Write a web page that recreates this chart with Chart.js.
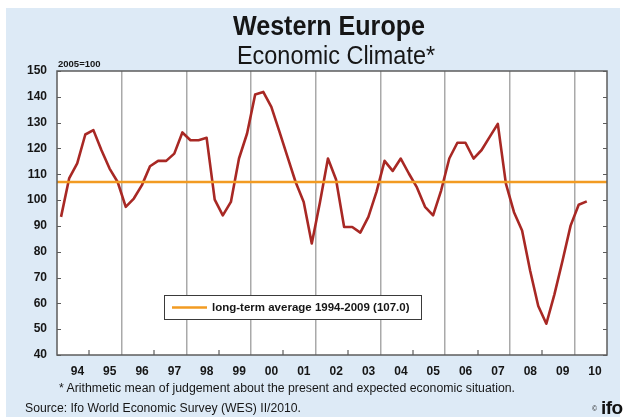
<!DOCTYPE html>
<html>
<head>
<meta charset="utf-8">
<script src="https://cdn.jsdelivr.net/npm/chart.js@4.4.1/dist/chart.umd.min.js"></script>
<style>
html,body{margin:0;padding:0;background:#fff;}
#wrap{position:relative;width:625px;height:417px;overflow:hidden;background:#fff;}
#bg{position:absolute;left:6px;top:8px;width:614px;height:409px;background:#ddeaf6;}
#c{position:absolute;left:0;top:0;}
.t{position:absolute;font-family:"Liberation Sans",Arial,sans-serif;color:#161616;white-space:nowrap;line-height:1;}
</style>
</head>
<body>
<div id="wrap">
  <div id="bg"></div>
  <canvas id="c" width="625" height="417"></canvas>
  <div class="t" id="title" style="left:0;width:658px;top:13px;text-align:center;font-weight:bold;font-size:27px;transform:scaleX(0.93);">Western Europe</div>
  <div class="t" id="subtitle" style="left:0;width:672px;top:43px;text-align:center;font-size:25.5px;transform:scaleX(0.92);">Economic Climate*</div>
  <div class="t" id="unit" style="left:58px;top:59px;font-weight:bold;font-size:9.5px;">2005=100</div>
  <div class="t fit" id="note" data-w="456" style="left:59px;top:382px;font-size:12.5px;transform-origin:0 0;">* Arithmetic mean of judgement about the present and expected economic situation.</div>
  <div class="t fit" id="source" data-w="276" style="left:25px;top:402px;font-size:12px;transform-origin:0 0;">Source: Ifo World Economic Survey (WES) II/2010.</div>
  <div class="t" id="copy" style="left:592px;top:405px;font-size:7px;">©</div>
  <div class="t" id="ifo" style="left:601px;top:398px;font-size:19px;font-weight:900;color:#111;letter-spacing:-0.5px;">ifo</div>
</div>
<script>
// ---- data ----
const years = [1994,1995,1996,1997,1998,1999,2000,2001,2002,2003,2004,2005,2006,2007,2008,2009,2010];
const yearLabels = ['94','95','96','97','98','99','00','01','02','03','04','05','06','07','08','09','10'];
const startYear = 1994;
// quarterly values, 1994 Q1 .. 2010 Q2
const climate = [
  93.5,108.4,114.2,125.4,
  127.1,119.3,112.2,107.0,
  97.4,100.6,105.8,113.1,
  115.2,115.2,118.0,126.2,
  123.2,123.2,124.1,100.2,
  94.1,99.3,116.1,125.8,
  140.9,141.9,136.1,126.5,
  116.7,107.0,99.3,83.2,
  99.0,116.1,108.0,89.6,
  89.6,87.4,93.5,103.2,
  115.2,111.3,116.1,110.3,
  104.9,97.4,94.1,103.8,
  116.1,122.2,122.2,116.1,
  119.4,124.5,129.5,106.4,
  95.3,88.2,72.6,59.0,
  52.1,63.5,76.5,90.1,
  98.2,99.5
];
const longTermAverage = 107.0;
const averageLabel = 'long-term average 1994-2009 (107.0)';
const yTicks = [40,50,60,70,80,90,100,110,120,130,140,150];

// fit footnote widths
document.querySelectorAll('.fit').forEach(el => {
  const w = el.getBoundingClientRect().width;
  el.style.transform = 'scaleX(' + (parseFloat(el.dataset.w) / w) + ')';
});

const FONT = '"Liberation Sans", Arial, sans-serif';
const RED = '#a82824';
const ORANGE = '#f29b22';
const GRID = '#a9a9a9';
const FRAME = '#5c5c5c';
const LABEL_OFF = 0.63;

const decor = {
  id: 'decor',
  beforeDraw(chart) {
    const {ctx, chartArea: a} = chart;
    ctx.save();
    ctx.fillStyle = '#ffffff';
    ctx.fillRect(a.left, a.top, a.right - a.left, a.bottom - a.top);
    ctx.restore();
  },
  afterDatasetsDraw(chart) {
    const {ctx, chartArea: a, scales} = chart;
    ctx.save();
    // frame
    ctx.strokeStyle = FRAME;
    ctx.lineWidth = 1.5;
    ctx.strokeRect(a.left, a.top, a.right - a.left, a.bottom - a.top);
    // y ticks inside, both sides
    ctx.lineWidth = 1;
    yTicks.forEach(v => {
      const y = Math.round(scales.y.getPixelForValue(v)) + 0.5;
      ctx.beginPath();
      ctx.moveTo(a.left, y); ctx.lineTo(a.left + 4, y);
      ctx.moveTo(a.right - 4, y); ctx.lineTo(a.right, y);
      ctx.stroke();
    });
    // short x ticks at odd-year boundaries
    ctx.lineWidth = 1.2;
    years.forEach(yr => {
      if (yr % 2 === 1) {
        const x = Math.round(scales.x.getPixelForValue(yr));
        ctx.beginPath();
        ctx.moveTo(x, a.bottom); ctx.lineTo(x, a.bottom - 5);
        ctx.stroke();
      }
    });
    // legend box
    const ds = chart.data.datasets[0];
    const bx = 164, by = 295, bw = 257, bh = 24;
    ctx.fillStyle = '#ffffff';
    ctx.fillRect(bx, by, bw, bh);
    ctx.strokeStyle = '#3a3a3a';
    ctx.lineWidth = 1;
    ctx.strokeRect(bx + 0.5, by + 0.5, bw, bh);
    ctx.strokeStyle = ds.borderColor;
    ctx.lineWidth = ds.borderWidth;
    ctx.beginPath();
    ctx.moveTo(bx + 8, by + 12.5); ctx.lineTo(bx + 43, by + 12.5);
    ctx.stroke();
    ctx.fillStyle = '#161616';
    ctx.font = 'bold 11.5px ' + FONT;
    ctx.textBaseline = 'middle';
    ctx.textAlign = 'left';
    ctx.fillText(ds.label, bx + 48, by + 13);
    ctx.restore();
  }
};

Chart.defaults.font.family = FONT;

new Chart(document.getElementById('c'), {
  type: 'line',
  data: {
    datasets: [
      {
        label: averageLabel,
        data: [{x: startYear, y: longTermAverage}, {x: years[years.length - 1] + 1, y: longTermAverage}],
        borderColor: ORANGE,
        borderWidth: 2.5,
        pointRadius: 0,
        fill: false
      },
      {
        label: 'Economic Climate',
        data: climate.map((v, i) => ({x: startYear + (i + 0.5) / 4, y: v})),
        borderColor: RED,
        borderWidth: 2.6,
        pointRadius: 0,
        tension: 0,
        fill: false,
        borderJoinStyle: 'round'
      }
    ]
  },
  options: {
    responsive: false,
    animation: false,
    devicePixelRatio: 1,
    layout: {padding: {left: 0, top: 71, right: 18, bottom: 0}},
    plugins: {legend: {display: false}, tooltip: {enabled: false}, title: {display: false}},
    scales: {
      x: {
        type: 'linear',
        min: years[0],
        max: years[years.length - 1] + 1,
        afterBuildTicks: s => {
          const t = [];
          years.forEach(yr => { t.push({value: yr}); t.push({value: yr + LABEL_OFF}); });
          t.push({value: years[years.length - 1] + 1});
          s.ticks = t;
        },
        afterFit: s => { s.height = 62; },
        ticks: {
          autoSkip: false, maxRotation: 0, minRotation: 0, padding: 9,
          color: '#161616', font: {size: 12, weight: 'bold'},
          callback: v => {
            const yr = Math.floor(v + 1e-9);
            if (Math.abs(v - yr - LABEL_OFF) < 0.01) return yearLabels[years.indexOf(yr)];
            return '';
          }
        },
        grid: {
          drawTicks: false,
          lineWidth: 1.5,
          color: c => {
            const v = c.tick ? c.tick.value : null;
            if (v !== null && Math.abs(v - Math.round(v)) < 1e-6 && Math.round(v) % 2 === 0 && v > years[0] && v < years[years.length - 1] + 1) return GRID;
            return 'rgba(0,0,0,0)';
          }
        },
        border: {display: false}
      },
      y: {
        min: 40, max: 150,
        afterBuildTicks: s => { s.ticks = yTicks.map(v => ({value: v})); },
        afterFit: s => { s.width = 57; },
        ticks: {padding: 10, color: '#161616', font: {size: 12, weight: 'bold'}},
        grid: {display: false, drawTicks: false},
        border: {display: false}
      }
    }
  },
  plugins: [decor]
});
</script>
</body>
</html>
